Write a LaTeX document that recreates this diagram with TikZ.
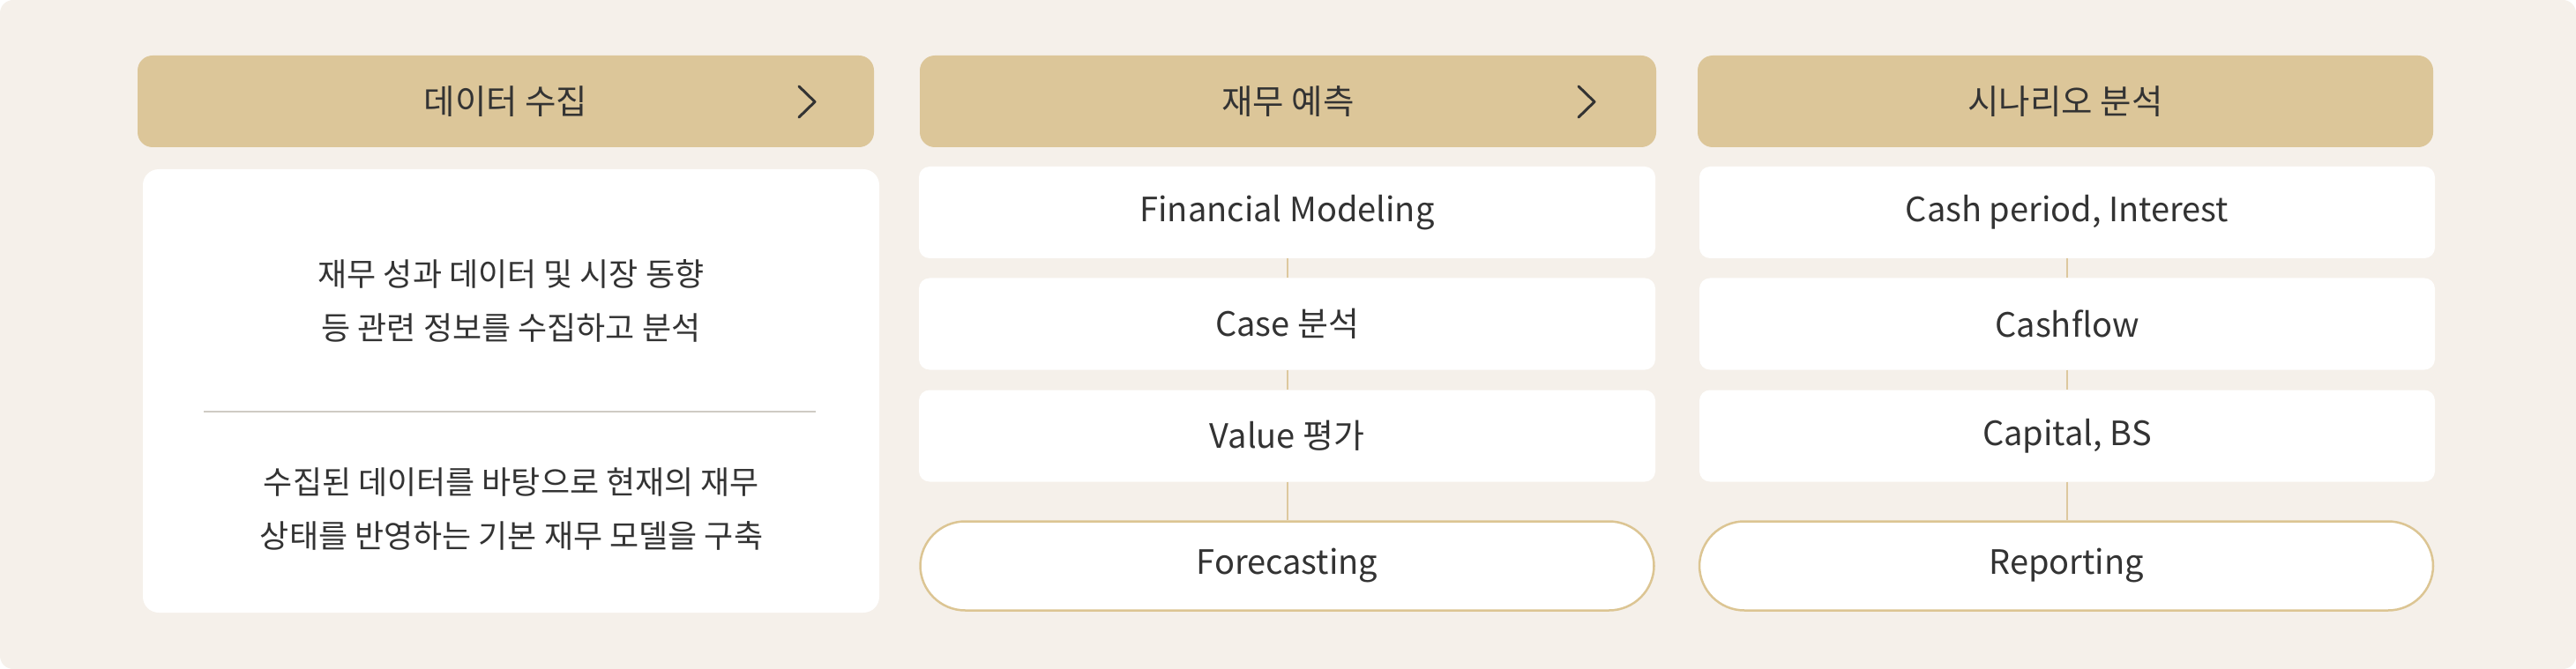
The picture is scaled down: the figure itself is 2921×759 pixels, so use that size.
\documentclass[tikz,border=0pt]{standalone}
\usepackage{fontspec}
\setmainfont{Noto Sans CJK KR}
\definecolor{bgc}{HTML}{F5F0EA}
\definecolor{headc}{HTML}{DCC699}
\definecolor{txtc}{HTML}{333333}
\definecolor{goldc}{HTML}{DCC593}
\definecolor{linec}{HTML}{DDC89E}
\definecolor{divc}{HTML}{CFCBC4}
\tikzset{
  hdr/.style={rectangle, rounded corners=17pt, fill=headc, minimum height=104pt, inner sep=0pt, text=txtc, font=\fontsize{38.5}{42}\selectfont},
  rowbox/.style={rectangle, rounded corners=12pt, fill=white, minimum height=104pt, inner sep=0pt, text=txtc, font=\fontsize{38}{42}\selectfont},
  pill/.style={rectangle, rounded corners=51pt, fill=white, draw=goldc, line width=2.5pt, minimum height=101pt, inner sep=0pt, text=txtc, font=\fontsize{38}{42}\selectfont},
  bigbox/.style={rectangle, rounded corners=18pt, fill=white, minimum width=835pt, minimum height=503pt, inner sep=0pt},
  para/.style={align=center, text=txtc, inner sep=0pt, font=\fontsize{36}{61}\selectfont},
  conn/.style={draw=linec, line width=2pt},
  chev/.style={draw=txtc, line width=3pt, line cap=round, line join=round},
}
\begin{document}
\begin{tikzpicture}[x=1pt, y=-1pt]
\useasboundingbox (0,0) rectangle (2921,759);
\fill[white] (0,0) rectangle (2921,759);
\fill[bgc, rounded corners=15pt] (0,0) rectangle (2921,759);
% headers
\node[hdr, minimum width=835pt] (h1) at (573.5,115) {데이터 수집};
\node[hdr, minimum width=835pt] (h2) at (1460.5,115) {재무 예측};
\node[hdr, minimum width=834pt] (h3) at (2342,115) {시나리오 분석};
\coordinate (c1a) at (906,98); \coordinate (c1b) at (924,115.5); \coordinate (c1c) at (906,133);
\draw[chev] (c1a) -- (c1b) -- (c1c);
\coordinate (c2a) at (1790,98); \coordinate (c2b) at (1808,115.5); \coordinate (c2c) at (1790,133);
\draw[chev] (c2a) -- (c2b) -- (c2c);
% column 1
\node[bigbox] (b1) at (579.5,443.5) {};
\node[para] (p1) at (579.5,341) {재무 성과 데이터 및 시장 동향\\등 관련 정보를 수집하고 분석};
\coordinate (d1) at (231,467); \coordinate (d2) at (925,467);
\draw[draw=divc, line width=2.5pt] (d1) -- (d2);
\node[para] (p2) at (580,578) {수집된 데이터를 바탕으로 현재의 재무\\상태를 반영하는 기본 재무 모델을 구축};
% column 2
\node[rowbox, minimum width=835pt] (r21) at (1459.5,241) {Financial Modeling};
\node[rowbox, minimum width=835pt] (r22) at (1459.5,367.5) {Case 분석};
\node[rowbox, minimum width=835pt] (r23) at (1459.5,494.5) {Value 평가};
\node[pill, minimum width=832pt] (r24) at (1459.5,642) {Forecasting};
\draw[conn] (r21.south) -- (r22.north);
\draw[conn] (r22.south) -- (r23.north);
\draw[conn] (r23.south) -- (r23.south |- r24.north);
% column 3
\node[rowbox, minimum width=834pt] (r31) at (2344,241) {Cash period, Interest};
\node[rowbox, minimum width=834pt] (r32) at (2344,367.5) {Cashflow};
\node[rowbox, minimum width=834pt] (r33) at (2344,494.5) {Capital, BS};
\node[pill, minimum width=832pt] (r34) at (2343,642) {Reporting};
\draw[conn] (r31.south) -- (r32.north);
\draw[conn] (r32.south) -- (r33.north);
\draw[conn] (r33.south) -- (r33.south |- r34.north);
\end{tikzpicture}
\end{document}
